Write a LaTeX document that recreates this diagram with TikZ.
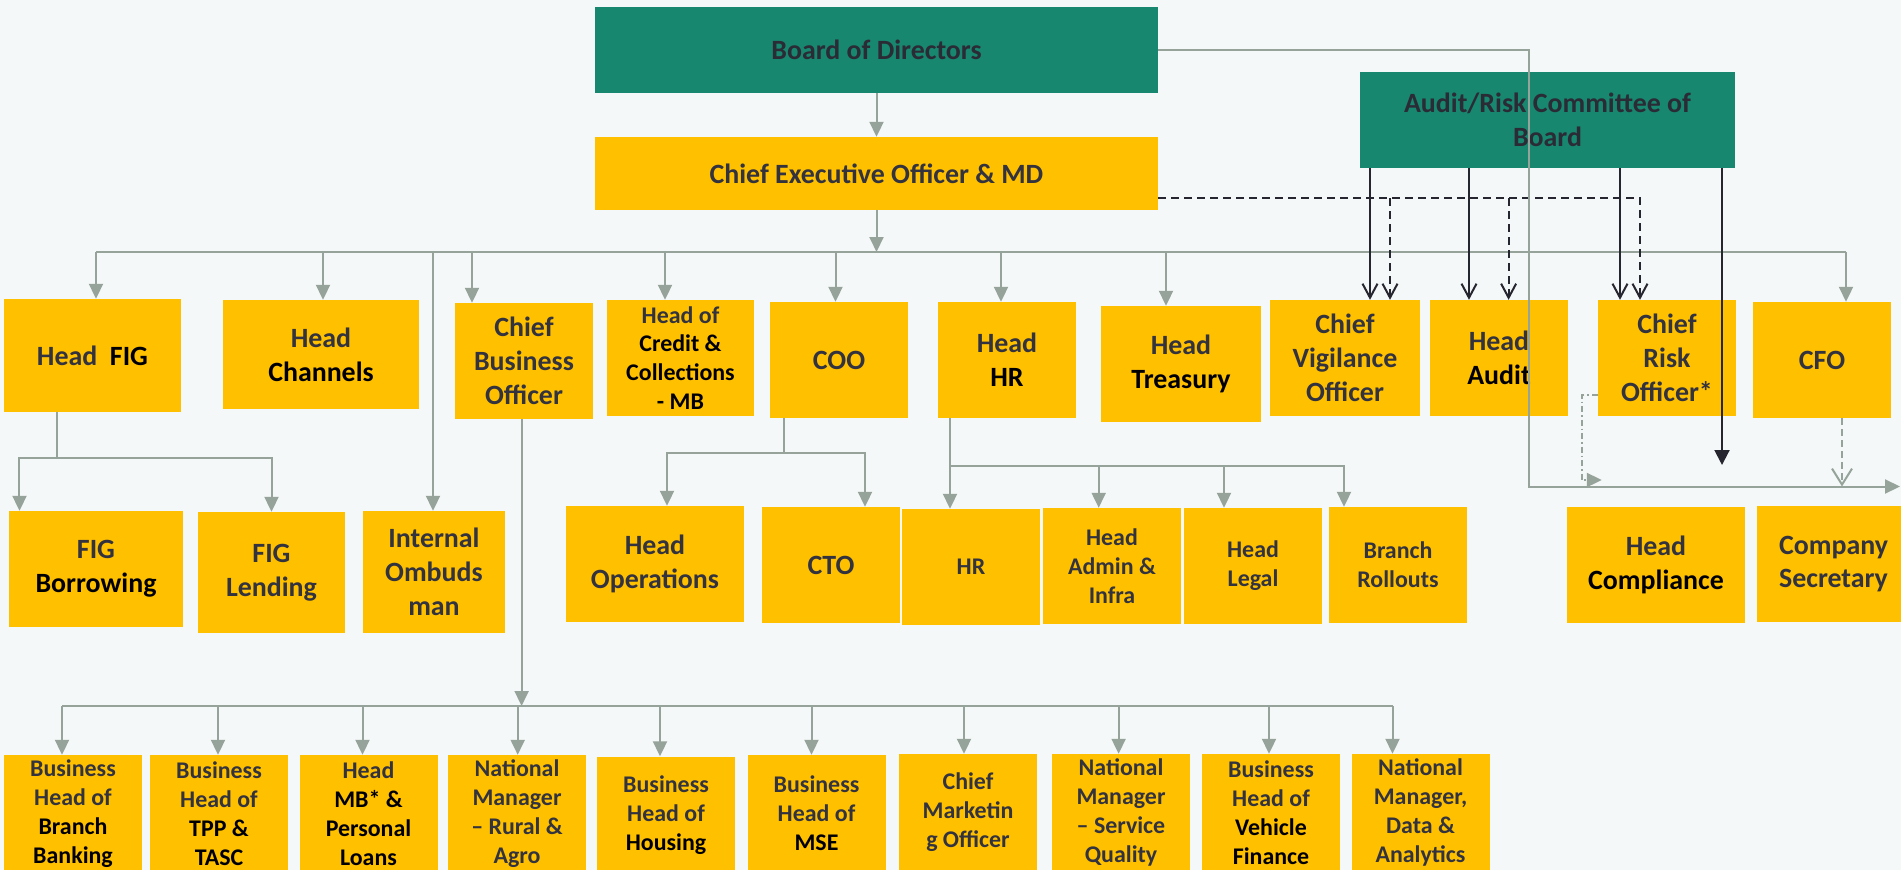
\documentclass[tikz,border=0pt]{standalone}
\usepackage{fontspec}
\setmainfont{Carlito}
\usepackage{tikz}
\usetikzlibrary{arrows.meta}

\definecolor{bgpaper}{HTML}{F5F8F8}
\definecolor{boardgreen}{HTML}{17876F}
\definecolor{amber}{HTML}{FFC000}
\definecolor{linegray}{HTML}{95A39B}
\definecolor{inkgray}{HTML}{33333F}
\definecolor{repink}{HTML}{262631}

\newcommand{\blk}[1]{\textcolor{black}{#1}}

\tikzset{
  box/.style={fill=amber, text=inkgray, align=center, inner sep=0pt,
    minimum width=138bp, minimum height=116bp,
    font=\bfseries\fontsize{28}{34}\selectfont},
  sbox/.style={box, font=\bfseries\fontsize{24}{29}\selectfont},
  lowbox/.style={sbox, minimum height=117bp},
  boardbox/.style={box, fill=boardgreen, text=inkgray!85!black},
  conn/.style={draw=linegray, line width=2bp},
  arr/.style={conn, -{Triangle[width=14bp,length=15bp]}},
  bus/.style={conn, line width=2.5bp},
  rep/.style={draw=repink, line width=2bp, -{Straight Barb[width=15bp,length=14bp]}},
  repfill/.style={draw=repink, line width=2bp, -{Triangle[width=15bp,length=15bp]}},
  dashrep/.style={rep, dash pattern=on 8bp off 5bp},
  ddarr/.style={arr, dash pattern=on 6bp off 3bp on 1.5bp off 3bp},
  gdash/.style={conn, dash pattern=on 7bp off 4bp, -{Straight Barb[width=20bp,length=16bp]}}
}

\begin{document}
\begin{tikzpicture}[x=1bp, y=-1bp]
\clip (0,0) rectangle (1901,870);
\fill[bgpaper] (0,0) rectangle (1901,870);

\node[boardbox, minimum width=563bp, minimum height=86bp] (board) at (876.5,50) {Board of Directors};
\node[box, minimum width=563bp, minimum height=73bp] (ceo) at (876.5,173.5) {Chief Executive Officer \& MD};
\node[boardbox, minimum width=375bp, minimum height=96bp] (arc) at (1547.5,120) {Audit/Risk Committee of\\Board};

\node[box, minimum width=177bp, minimum height=113bp] (fig) at (92.5,355.5) {Head\ \ \blk{FIG}};
\node[box, minimum width=196bp, minimum height=109bp] (chan) at (321,354.5) {Head\\\blk{Channels}};
\node[box] (cbo) at (524,361) {Chief\\Business\\Officer};
\node[sbox, minimum width=147bp] (credit) at (680.5,358) {Head of\\\blk{Credit \&}\\\blk{Collections}\\\blk{- MB}};
\node[box] (coo) at (839,360) {COO};
\node[box] (headhr) at (1007,360) {Head\\\blk{HR}};
\node[box, minimum width=160bp] (treas) at (1181,364) {Head\\\blk{Treasury}};
\node[box, minimum width=150bp] (cvo) at (1345,358) {Chief\\Vigilance\\Officer};
\node[box] (haudit) at (1499,358) {Head\\\blk{Audit}};
\node[box] (cro) at (1667,358) {Chief\\Risk\\Officer*};
\node[box] (cfo) at (1822,360) {CFO};

\node[box, minimum width=174bp] (borrow) at (96,569) {FIG\\\blk{Borrowing}};
\node[box, minimum width=147bp, minimum height=121bp] (lend) at (271.5,572.5) {FIG\\Lending};
\node[box, minimum width=142bp, minimum height=122bp] (ombud) at (434,572) {Internal\\Ombuds\\man};
\node[box, minimum width=178bp] (ops) at (655,564) {Head\\Operations};
\node[box] (cto) at (831,565) {CTO};
\node[sbox] (hr) at (971,567) {HR};
\node[sbox] (admin) at (1112,566) {Head\\Admin \&\\Infra};
\node[sbox] (legal) at (1253,566) {Head\\Legal};
\node[sbox] (rollout) at (1398,565) {Branch\\Rollouts};
\node[box, minimum width=178bp] (compl) at (1656,565) {Head\\\blk{Compliance}};
\node[box, minimum width=153bp] (cosec) at (1833.5,564) {Company\\Secretary};

\node[lowbox] (b1) at (73,813.5) {Business\\Head of\\\blk{Branch}\\\blk{Banking}};
\node[lowbox] (b2) at (219,813.5) {Business\\Head of\\\blk{TPP \&}\\\blk{TASC}};
\node[lowbox] (b3) at (368.5,813.5) {Head\\\blk{MB* \&}\\\blk{Personal}\\\blk{Loans}};
\node[lowbox] (b4) at (517,813.5) {National\\Manager\\– Rural \&\\Agro};
\node[lowbox] (b5) at (666,815) {Business\\Head of\\\blk{Housing}};
\node[lowbox] (b6) at (816.5,813.5) {Business\\Head of\\\blk{MSE}};
\node[lowbox] (b7) at (968,812.5) {Chief\\Marketin\\g Officer};
\node[lowbox] (b8) at (1121,812.5) {National\\Manager\\– Service\\Quality};
\node[lowbox] (b9) at (1271,812.5) {Business\\Head of\\\blk{Vehicle}\\\blk{Finance}};
\node[lowbox] (b10) at (1420.5,812.5) {National\\Manager,\\Data \&\\Analytics};

\coordinate (tbus) at (0,252);
\coordinate (bbus) at (0,706);
\coordinate (ceoDash) at (0,198);
\coordinate (rbus) at (1528.6,486.5);
\coordinate (rbusEnd) at (1900,486.5);
\coordinate (complTip) at (1722,465);

\draw[arr] (board) -- (ceo);
\draw[arr] (ceo.south) -- (ceo.south |- tbus);
\draw[bus] ([xshift=3.5bp]fig.north |- tbus) -- ([xshift=24bp]cfo.north |- tbus);
\foreach \n/\s in {fig/3.5bp, chan/2bp, ombud/-1bp, cbo/-52bp, credit/-15.5bp, coo/-3.5bp, headhr/-6bp, treas/-15bp, cfo/24bp}
  \draw[arr] ([xshift=\s]\n.north |- tbus) -- ([xshift=\s]\n.north);

\draw[conn] ([xshift=-35.5bp]fig.south) -- ++(0,46) coordinate (figj);
\draw[arr] (figj) -| ([xshift=-76.5bp]borrow.north);
\draw[arr] (figj) -| (lend.north);

\draw[conn] ([xshift=-55bp]coo.south) -- ++(0,35) coordinate (cooj);
\draw[arr] (cooj) -| ([xshift=12bp]ops.north);
\draw[arr] (cooj) -| ([xshift=34bp]cto.north);

\draw[conn] ([xshift=-57bp]headhr.south) -- ++(0,48) coordinate (hrj);
\foreach \n/\s in {hr/-21bp, admin/-13.3bp, legal/-29bp, rollout/-54bp}
  \draw[arr] (hrj) -| ([xshift=\s]\n.north);

\draw[arr] ([xshift=-2.4bp]cbo.south) -- ([xshift=-2.4bp]cbo.south |- bbus);
\draw[bus] ([xshift=-11bp]b1.north |- bbus) -- ([xshift=-28bp]b10.north |- bbus);
\foreach \n/\s in {b1/-11bp, b2/-1bp, b3/-6bp, b4/0.7bp, b5/-6bp, b6/-5bp, b7/-4bp, b8/-2.4bp, b9/-2bp, b10/-28bp}
  \draw[arr] ([xshift=\s]\n.north |- bbus) -- ([xshift=\s]\n.north);

\draw[dashrep] ([yshift=-24.5bp]ceo.east) -| ([xshift=-27bp]cro.north);
\draw[dashrep] ([xshift=45bp]cvo.north |- ceoDash) -- ([xshift=45bp]cvo.north);
\draw[dashrep] ([xshift=9.6bp]haudit.north |- ceoDash) -- ([xshift=9.6bp]haudit.north);

\draw[rep] ([xshift=25bp]cvo.north |- arc.south) -- ([xshift=25bp]cvo.north);
\draw[rep] ([xshift=-30bp]haudit.north |- arc.south) -- ([xshift=-30bp]haudit.north);
\draw[rep] ([xshift=-47bp]cro.north |- arc.south) -- ([xshift=-47bp]cro.north);
\draw[repfill] (arc.south -| complTip) -- (complTip);

\draw[arr] (board.east) -| (rbus) -- (rbusEnd);
\draw[ddarr] ([yshift=-37bp]cro.west) -- ++(-16,0) -- ++(0,85) -- ++(20,0);
\draw[gdash] ([xshift=20bp]cfo.south) -- ([xshift=20bp]cfo.south |- rbus);
\end{tikzpicture}
\end{document}
